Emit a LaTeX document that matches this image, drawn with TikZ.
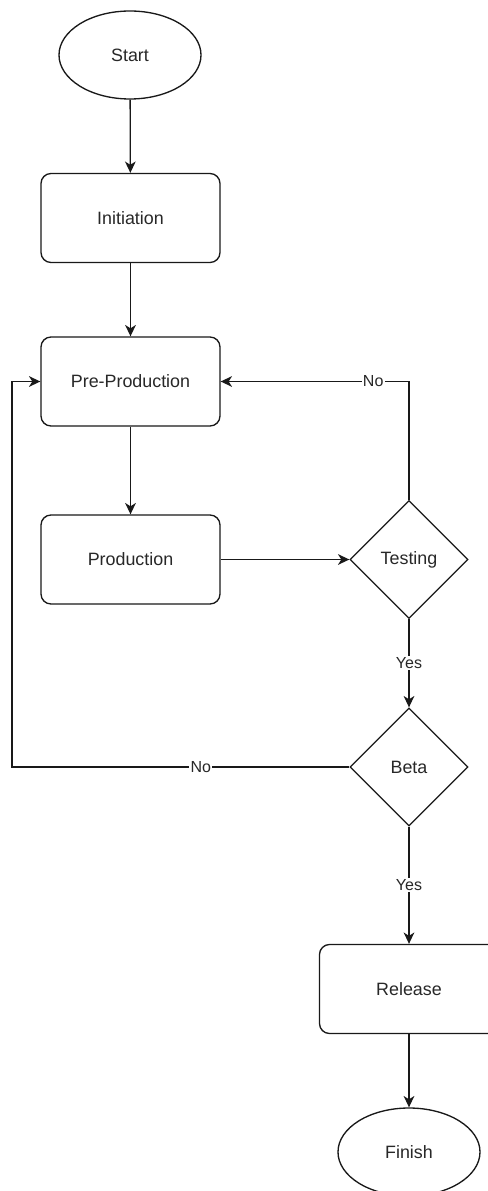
\documentclass[tikz,border=0pt]{standalone}
\usepackage{fontspec}
\setmainfont{Liberation Sans}
\usetikzlibrary{shapes.geometric,arrows.meta}
\definecolor{inkline}{RGB}{25,25,25}
\definecolor{inktext}{RGB}{40,40,40}
\begin{document}
\begin{tikzpicture}[x=0.75pt,y=-0.75pt,
  every node/.style={text=inktext},
  terminal/.style={draw=inkline,line width=1pt,ellipse,minimum width=106.5pt,minimum height=66pt,inner sep=0pt,font=\fontsize{13.4}{16}\selectfont},
  stagebox/.style={draw=inkline,line width=1pt,rectangle,rounded corners=7.5pt,minimum width=134.25pt,minimum height=66.75pt,inner sep=0pt,font=\fontsize{13.4}{16}\selectfont},
  decision/.style={draw=inkline,line width=1pt,diamond,minimum width=88.5pt,minimum height=88.5pt,inner sep=0pt,font=\fontsize{13.4}{16}\selectfont},
  flow/.style={draw=inkline,line width=1pt,-{Stealth[length=8.5pt,width=8pt,inset=2.5pt]}},
  edgelabel/.style={fill=white,inner sep=1pt,font=\fontsize{12}{14}\selectfont}]
\useasboundingbox (0,0) rectangle (488,1191);
\clip (0,0) rectangle (488,1191);
\fill[white] (0,0) rectangle (488,1191);

% process chain
\node[terminal] (start) at (130,55) {Start};
\node[stagebox] (init) at (130.5,218) {Initiation};
\node[stagebox] (pre) at (130.5,381.5) {Pre-Production};
\node[stagebox] (prod) at (130.5,559.5) {Production};
\node[decision] (test) at (409,559.5) {Testing};
\node[decision] (beta) at (409,767) {Beta};
\node[stagebox] (rel) at (409,989) {Release};
\node[terminal] (fin) at (409,1152) {Finish};

\coordinate (leftrail) at (12,767);
\coordinate (lefttop) at (12,381.5);
\coordinate (righttop) at (409,381.5);

\draw[flow] (start) -- (init);
\draw[flow] (init) -- (pre);
\draw[flow] (pre) -- (prod);
\draw[flow] (prod) -- (test);
\draw[flow] (test.north) -- (righttop) -- node[edgelabel,pos=0.19] {No} (pre.east);
\draw[flow] (test.south) -- node[edgelabel,pos=0.5] {Yes} (beta.north);
\draw[flow] (beta.west) -- node[edgelabel,pos=0.44] {No} (leftrail) -- (lefttop) -- (pre.west);
\draw[flow] (beta.south) -- node[edgelabel,pos=0.5] {Yes} (rel.north);
\draw[flow] (rel) -- (fin);
\end{tikzpicture}
\end{document}
